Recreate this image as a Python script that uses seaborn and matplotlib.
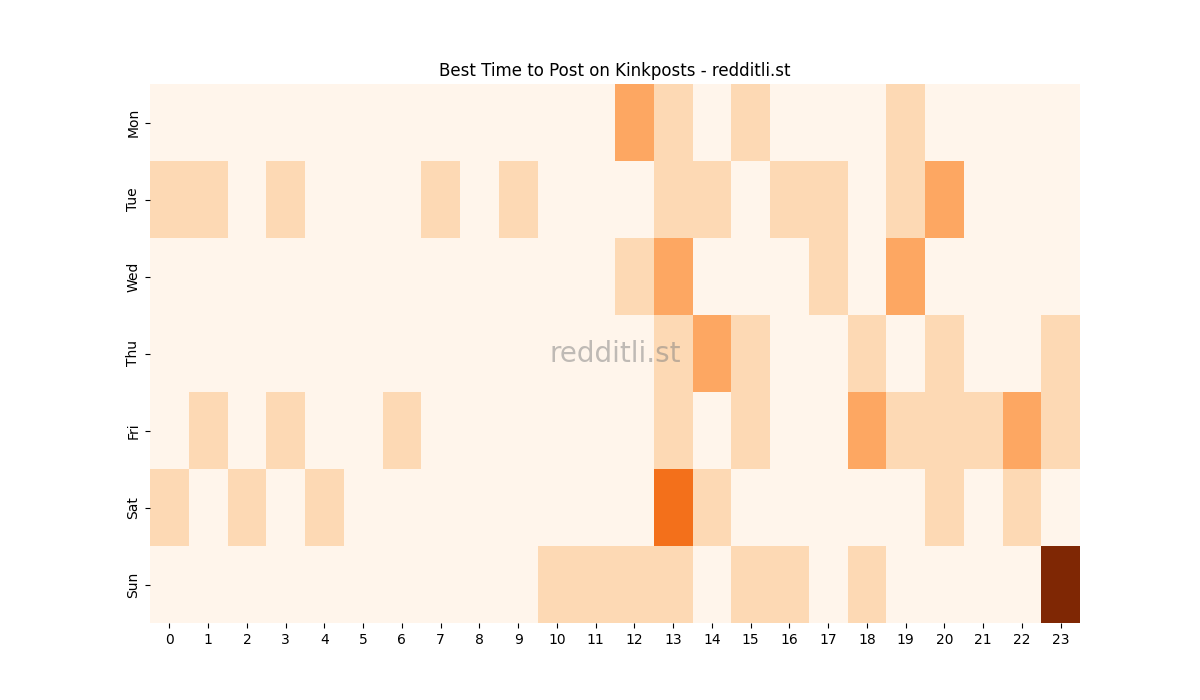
import numpy as np
import pandas as pd
import matplotlib
matplotlib.use("Agg")
import matplotlib.pyplot as plt
import seaborn as sns

days = ["Mon", "Tue", "Wed", "Thu", "Fri", "Sat", "Sun"]
hours = list(range(24))

# post counts per (day, hour); hours not listed are 0
mon = {12: 2, 13: 1, 15: 1, 19: 1}
tue = {0: 1, 1: 1, 3: 1, 7: 1, 9: 1, 13: 1, 14: 1, 16: 1, 17: 1, 19: 1, 20: 2}
wed = {12: 1, 13: 2, 17: 1, 19: 2}
thu = {13: 1, 14: 2, 15: 1, 18: 1, 20: 1, 23: 1}
fri = {1: 1, 3: 1, 6: 1, 13: 1, 15: 1, 18: 2, 19: 1, 20: 1, 21: 1, 22: 2, 23: 1}
sat = {0: 1, 2: 1, 4: 1, 13: 3, 14: 1, 20: 1, 22: 1}
sun = {10: 1, 11: 1, 12: 1, 13: 1, 15: 1, 16: 1, 18: 1, 23: 5}

rows = [mon, tue, wed, thu, fri, sat, sun]
grid = pd.DataFrame([[r.get(h, 0) for h in hours] for r in rows],
                    index=days, columns=hours)

fig = plt.figure(figsize=(12, 7), dpi=100)
ax = sns.heatmap(grid, cmap="Oranges", cbar=False)
ax.set_title("Best Time to Post on Kinkposts - redditli.st")
ax.set_xlabel("")
ax.set_ylabel("")
ax.text(0.5, 0.5, "redditli.st", transform=ax.transAxes, ha="center", va="center",
        fontsize=20, color="gray", alpha=0.5)
plt.savefig("out.png")
